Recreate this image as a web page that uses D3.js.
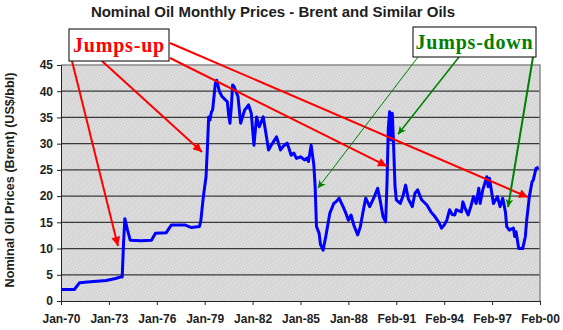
<!DOCTYPE html>
<html>
<head>
<meta charset="utf-8">
<script src="https://cdn.jsdelivr.net/npm/d3@7"></script>
<style>
  html, body { margin: 0; padding: 0; background: #ffffff; }
  svg { display: block; }
</style>
</head>
<body>
<svg id="chart" width="563" height="330"></svg>
<script>
// Months counted from Jan-70, with the Brent price (US$/bbl) at that month
const months = [0, 10, 14, 20, 34, 41, 45, 46, 47, 48, 50, 52, 60, 68, 71, 79, 83, 93, 98, 104,
  105, 107, 109, 110, 111, 112, 113, 114, 116, 117, 119, 121, 123, 125, 126, 127, 128, 129, 130, 133,
  135, 138, 141, 143, 145, 147, 149, 152, 154, 156, 158, 162, 165, 167, 170, 173, 175, 177, 180, 183,
  185, 186, 188, 190, 191, 192, 194, 195, 197, 199, 202, 205, 207, 209, 212, 214, 216, 218, 220, 223,
  225, 227, 229, 232, 235, 238, 240, 242, 244, 245, 246, 247, 248, 249, 250, 251, 252, 255, 257, 259,
  261, 264, 266, 268, 271, 275, 278, 281, 284, 286, 288, 290, 292, 294, 296, 297, 299, 301, 302, 304,
  306, 308, 310, 312, 314, 315, 317, 320, 321, 322, 325, 328, 330, 332, 334, 335, 337, 340, 341, 342,
  344, 347, 349, 350, 352, 354, 355, 357, 359];
const prices = [2.2, 2.2, 3.5, 3.6, 3.9, 4.3, 4.6, 4.6, 11, 15.7, 13.5, 11.6, 11.5, 11.6, 12.9, 13.0, 14.5, 14.5, 14.0, 14.2,
  15.1, 19.9, 23.7, 29.1, 35.1, 34.5, 36, 36.5, 41.5, 42.1, 40, 39, 38.5, 38, 35.5, 33.9, 37, 41.2, 40.9, 39,
  33.9, 36.4, 37.4, 35.8, 29.7, 35.1, 33.2, 35.1, 32, 28.8, 29.7, 31.3, 28.8, 29.5, 30.1, 27.8, 28.2, 27.2, 27.5, 26.9,
  27.3, 26.6, 29.7, 26, 21.8, 14.2, 12.9, 10.8, 9.7, 12.3, 16.7, 18.6, 19.0, 19.6, 18, 16.8, 15.4, 16.4, 14.5, 12.6,
  14.2, 17, 19.6, 18, 19.6, 21.5, 19, 16.1, 15.1, 22.4, 33, 36.1, 30.7, 35.8, 29.4, 22, 19.3, 18.6, 20, 22.1,
  19.5, 18, 20.5, 21.2, 19.3, 18.3, 17, 16.1, 15, 13.9, 14.5, 15.4, 17.4, 16.5, 16.4, 17.4, 17.2, 17, 18.9, 17.5,
  16.4, 18, 19.9, 18.6, 21.5, 18.6, 21.2, 23.7, 21.8, 23.4, 18.6, 19.9, 18, 19.6, 17, 14.2, 13.5, 13.9, 12.3, 13.2,
  10.0, 10.0, 12.3, 15.4, 19.9, 22.7, 23.1, 25.3, 25.5];

// Category axis labels, one every 36 months
const tickMonths = [0, 36, 72, 108, 144, 180, 216, 252, 288, 324, 360];
const tickLabels = ["Jan-70", "Jan-73", "Jan-76", "Jan-79", "Jan-82", "Jan-85", "Jan-88", "Feb-91", "Feb-94", "Feb-97", "Feb-00"];
const yTicks = [0, 5, 10, 15, 20, 25, 30, 35, 40, 45];

// Callout arrows: tip positions given as (month, price)
const upTips = [[42.8, 10.5], [106, 28.4], [245, 25.7], [351, 19.8]];
const downTips = [[193, 21.5], [253.3, 31.8], [336, 17.9]];

const svg = d3.select("#chart");
const plotLeft = 61, plotRight = 540, plotTop = 65, plotBottom = 301;

const x = d3.scaleLinear().domain([0, 360]).range([plotLeft, plotRight]);
const y = d3.scaleLinear().domain([0, 45]).range([plotBottom, plotTop]);

const defs = svg.append("defs");
// speckled gray plot fill
const pat = defs.append("pattern").attr("id", "speckle").attr("patternUnits", "userSpaceOnUse")
  .attr("width", 6).attr("height", 6);
pat.append("rect").attr("width", 6).attr("height", 6).attr("fill", "#d6d6d6");
[[0, 0], [3, 1], [1, 3], [4, 4], [5, 2], [2, 5]].forEach(([a, b]) =>
  pat.append("rect").attr("x", a).attr("y", b).attr("width", 1).attr("height", 1).attr("fill", "#e6e6e6"));

defs.append("marker").attr("id", "headRed").attr("viewBox", "0 0 10 10")
  .attr("refX", 10).attr("refY", 5).attr("markerWidth", 11).attr("markerHeight", 9)
  .attr("markerUnits", "userSpaceOnUse").attr("orient", "auto")
  .append("path").attr("d", "M0,0 L10,5 L0,10 Z").attr("fill", "#ff0000");
defs.append("marker").attr("id", "headGreen").attr("viewBox", "0 0 10 10")
  .attr("refX", 10).attr("refY", 5).attr("markerWidth", 8).attr("markerHeight", 8)
  .attr("markerUnits", "userSpaceOnUse").attr("orient", "auto")
  .append("path").attr("d", "M0,0 L10,5 L0,10 L3,5 Z").attr("fill", "#008000");

const sans = "Liberation Sans, Arial, sans-serif";

// title
svg.append("text").attr("x", 273).attr("y", 17).attr("text-anchor", "middle")
  .attr("font-family", sans).attr("font-weight", "bold")
  .attr("font-size", 15).attr("fill", "#1e1e1e").text("Nominal Oil Monthly Prices - Brent and Similar Oils");

// plot background
svg.append("rect").attr("x", plotLeft).attr("y", plotTop)
  .attr("width", plotRight - plotLeft).attr("height", plotBottom - plotTop)
  .attr("fill", "url(#speckle)");

// gridlines
svg.append("g").selectAll("line").data(yTicks.filter(v => v > 0 && v < 45)).join("line")
  .attr("x1", plotLeft).attr("x2", plotRight).attr("y1", d => y(d)).attr("y2", d => y(d))
  .attr("stroke", "#3a3a3a").attr("stroke-width", 1.2);

// plot border (top and right)
svg.append("path").attr("d", `M${plotLeft},${plotTop} H${plotRight} V${plotBottom}`)
  .attr("fill", "none").attr("stroke", "#8a8a8a").attr("stroke-width", 1.5);

// axes
const yAxis = d3.axisLeft(y).tickValues(yTicks).tickSize(4).tickFormat(d3.format("d"));
const gy = svg.append("g").attr("transform", `translate(${plotLeft},0)`).call(yAxis);
gy.select(".domain").attr("stroke", "#222");
gy.selectAll(".tick line").attr("stroke", "#222");
gy.selectAll("text").attr("font-family", sans).attr("font-weight", "bold")
  .attr("font-size", 12).attr("fill", "#1e1e1e").attr("x", -8);

const xAxis = d3.axisBottom(x).tickValues(tickMonths).tickSize(4)
  .tickFormat((d, i) => tickLabels[i]);
const gx = svg.append("g").attr("transform", `translate(0,${plotBottom})`).call(xAxis);
gx.select(".domain").attr("stroke", "#222");
gx.selectAll(".tick line").attr("stroke", "#222");
gx.selectAll("text").attr("font-family", sans).attr("font-weight", "bold")
  .attr("font-size", 12).attr("fill", "#1e1e1e").attr("y", 13);

// y axis title
svg.append("text").attr("transform", "translate(14,180) rotate(-90)").attr("text-anchor", "middle")
  .attr("font-family", sans).attr("font-weight", "bold")
  .attr("font-size", 12.6).attr("fill", "#1e1e1e").text("Nominal Oil Prices (Brent) (US$/bbl)");

// price line
const line = d3.line().x((d, i) => x(months[i])).y(d => y(d));
svg.append("path").datum(prices).attr("d", line)
  .attr("fill", "none").attr("stroke", "#0000ff").attr("stroke-width", 3)
  .attr("stroke-linejoin", "round");

// callout boxes
function callout(bx, by, bw, bh, label, color) {
  svg.append("rect").attr("x", bx).attr("y", by).attr("width", bw).attr("height", bh)
    .attr("fill", "#ffffff").attr("stroke", "#000").attr("stroke-width", 1);
  svg.append("text").attr("x", bx + bw / 2).attr("y", by + bh / 2 + 7).attr("text-anchor", "middle")
    .attr("font-family", "Liberation Serif, Times New Roman, serif").attr("font-weight", "bold")
    .attr("font-size", 20).attr("letter-spacing", 0.8).attr("fill", color).text(label);
}

// arrows from the callouts
const upStarts = [[72, 61], [102, 61], [170, 58], [170, 43]];
svg.append("g").selectAll("line").data(upTips).join("line")
  .attr("x1", (d, i) => upStarts[i][0]).attr("y1", (d, i) => upStarts[i][1])
  .attr("x2", d => x(d[0])).attr("y2", d => y(d[1]))
  .attr("stroke", "#ff0000").attr("stroke-width", 2).attr("marker-end", "url(#headRed)");

const downStarts = [[418, 57], [459, 57], [533, 57]];
const downWidths = [1, 1.5, 2];
svg.append("g").selectAll("line").data(downTips).join("line")
  .attr("x1", (d, i) => downStarts[i][0]).attr("y1", (d, i) => downStarts[i][1])
  .attr("x2", d => x(d[0])).attr("y2", d => y(d[1]))
  .attr("stroke", "#008000").attr("stroke-width", (d, i) => downWidths[i]).attr("marker-end", "url(#headGreen)");

callout(69, 29, 100, 32, "Jumps-up", "#ff0000");
callout(413, 27, 123, 30, "Jumps-down", "#008000");
</script>
</body>
</html>
